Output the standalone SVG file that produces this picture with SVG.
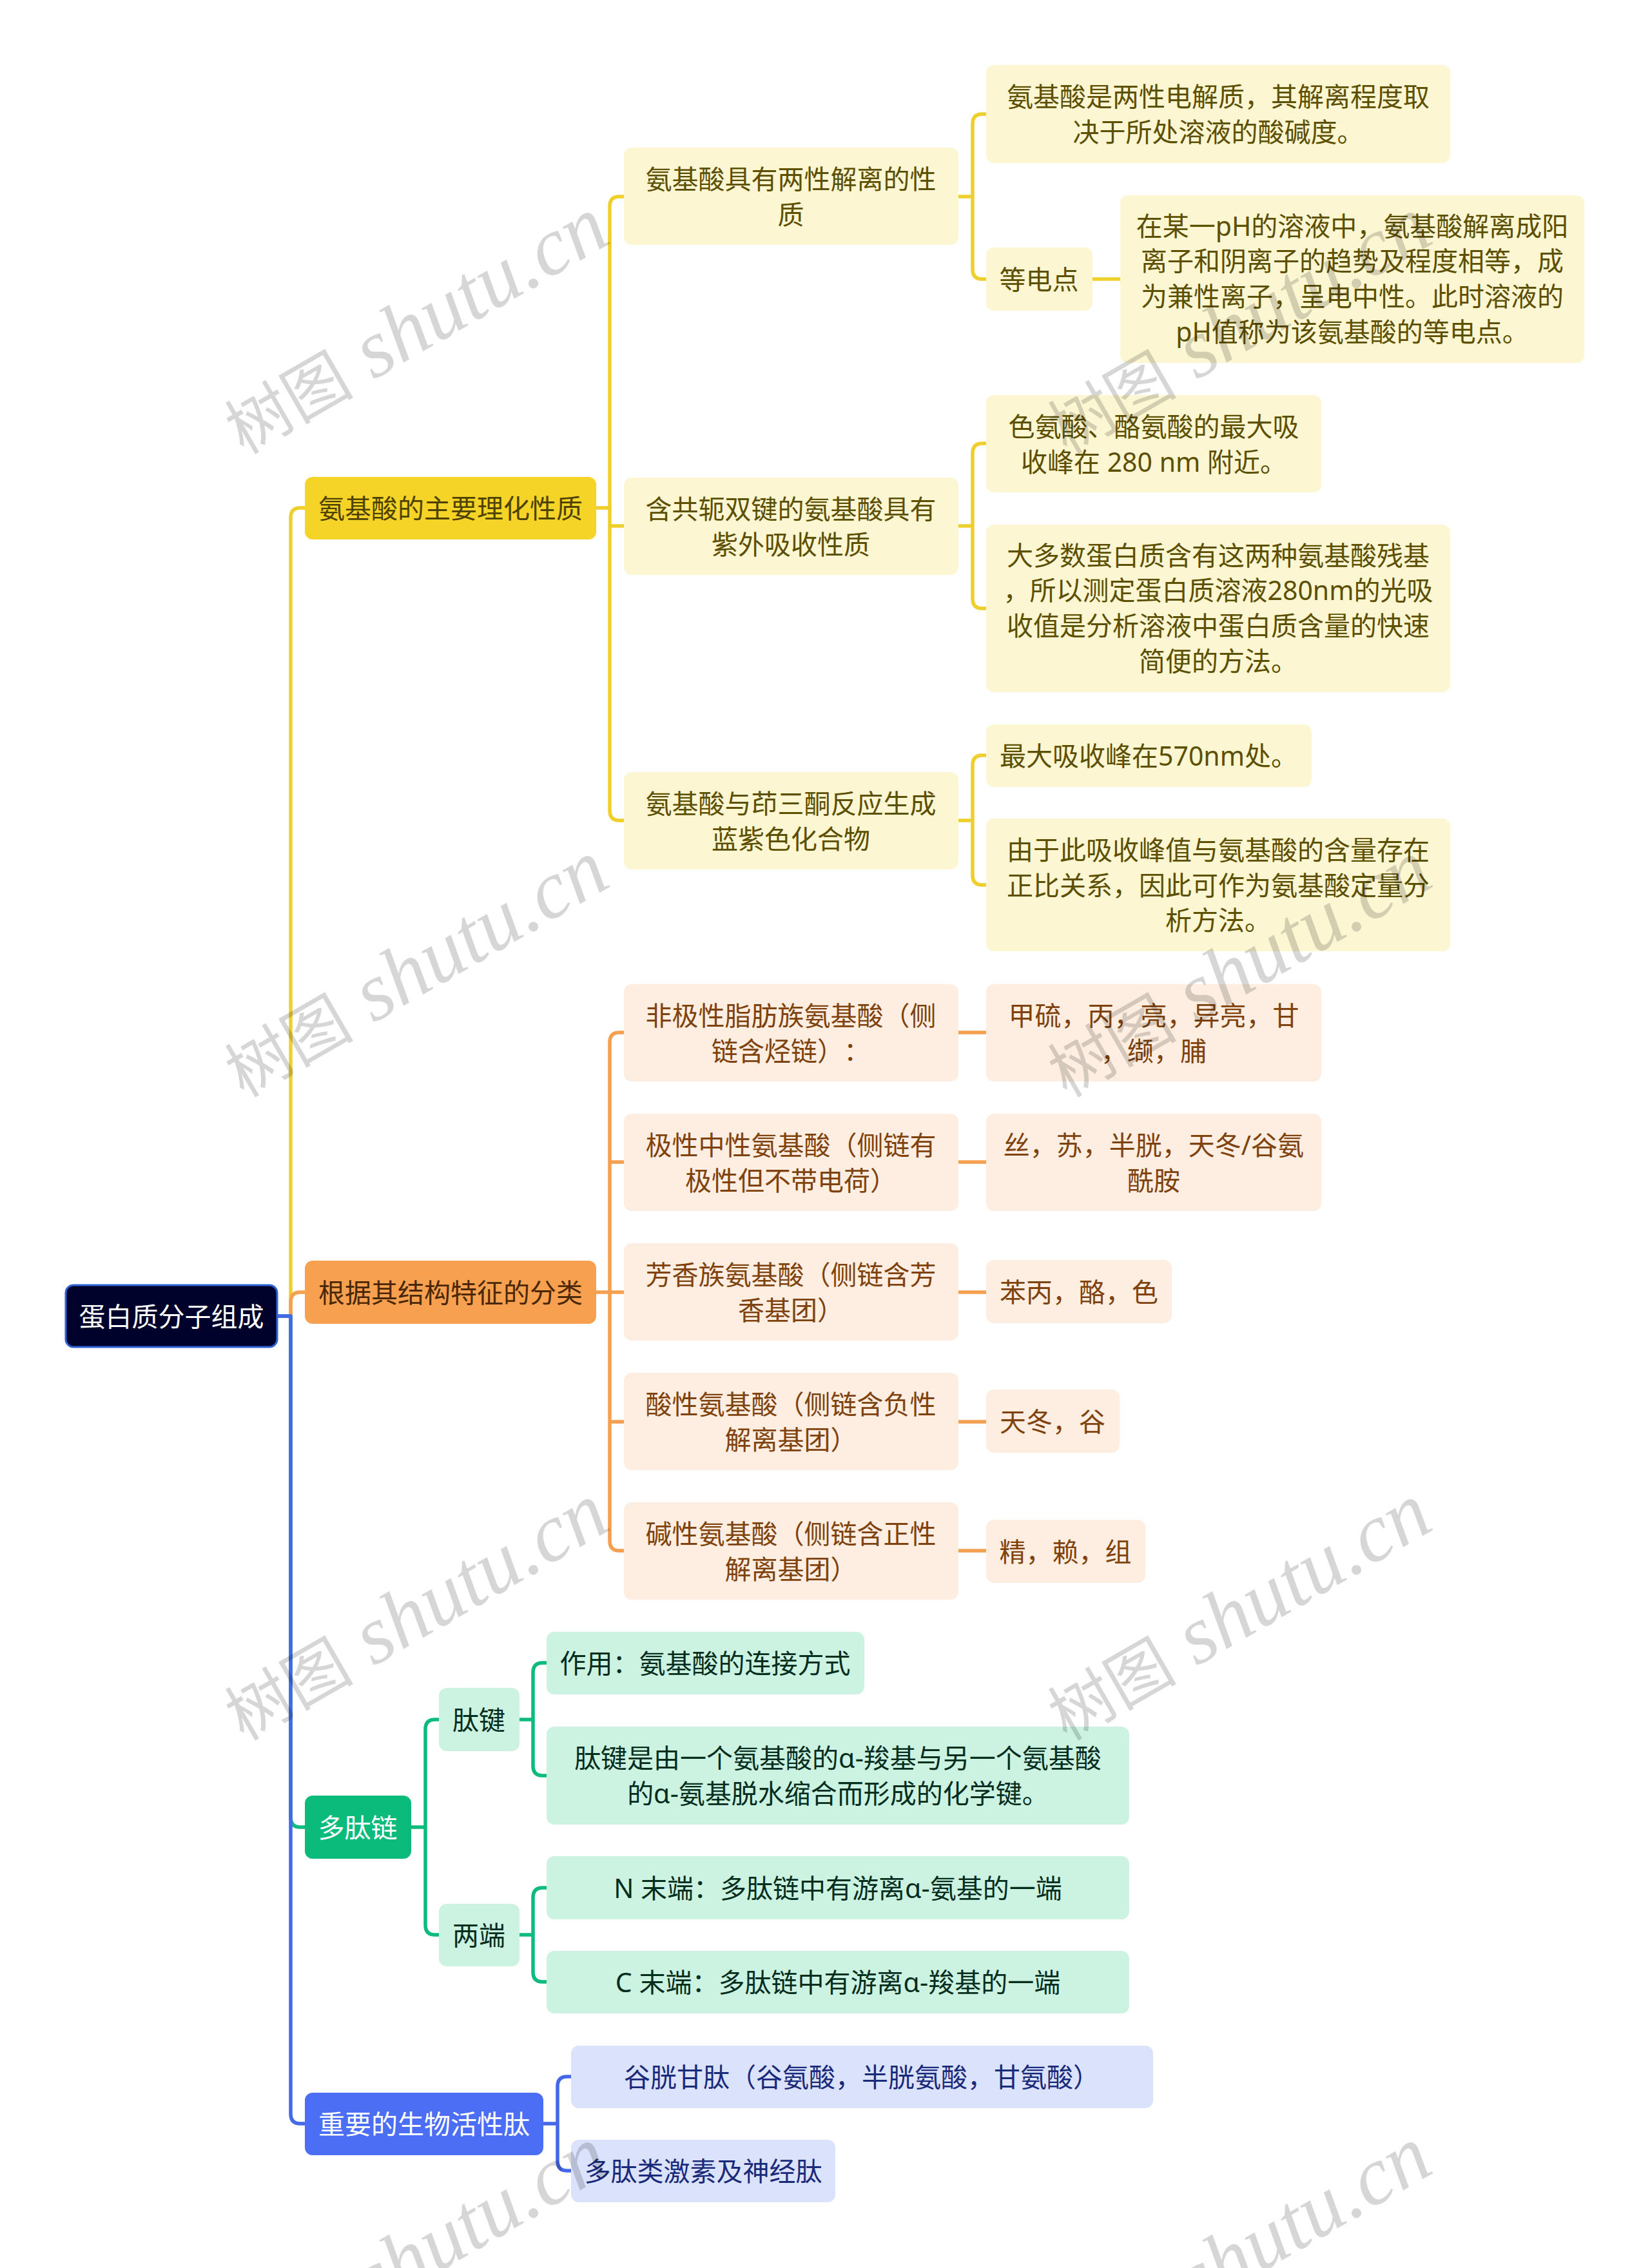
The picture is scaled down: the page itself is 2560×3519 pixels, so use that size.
<svg xmlns="http://www.w3.org/2000/svg" width="2560" height="3519" viewBox="0 0 2560 3519">
<style>
text{font-family:"Noto Sans","Noto Sans CJK SC",sans-serif;font-size:41px;text-anchor:middle;text-spacing-trim:space-all}
.c{fill:none;stroke-width:5.5;stroke-linejoin:round}
.cy{stroke:#eecf2c}.co{stroke:#f5a050}.cg{stroke:#0dbb7d}.cb{stroke:#4468e8}
.m{fill:#fff}
.y1{fill:#f5d327}.y2{fill:#fdf6d2}.ty1{fill:#4d4200}.ty2{fill:#5c4f00}
.o1{fill:#f7a04f}.o2{fill:#fdeee1}.to1{fill:#4a2706}.to2{fill:#7f420c}
.g1{fill:#0abb7c}.g2{fill:#ccf2e2}.tg2{fill:#032d1d}
.b1{fill:#4c6ef5}.b2{fill:#dbe2fb}.tb2{fill:#1a2a7a}
.wm{fill:#000;fill-opacity:.16;text-anchor:start}
.wm .lat{font-family:"Liberation Serif",serif;font-style:italic;font-size:128px}
.wm .cjk{font-family:"Noto Sans CJK SC",sans-serif;font-size:100px}
</style>
<defs>
<text id="wmk" class="wm" transform="rotate(-30)"><tspan class="cjk">树图</tspan><tspan class="lat"> shutu.cn</tspan></text>
</defs>
<rect width="2560" height="3519" fill="#fff"/>
<g id="connectors">
<path class="c cy" d="M430 2042H451V803Q451 788 466 788H473"/>
<path class="c co" d="M430 2042H451V2020Q451 2005 466 2005H473"/>
<path class="c cg" d="M430 2042H451V2820Q451 2835 466 2835H473"/>
<path class="c cb" d="M430 2042H451V3280Q451 3295 466 3295H473"/>
<path class="c cy" d="M925 788H946V320Q946 305 961 305H968M946 788V1258Q946 1273 961 1273H968M946 816H968"/>
<path class="c cy" d="M1487 305H1509V192Q1509 177 1524 177H1530M1509 305V418Q1509 433 1524 433H1530M1695 433H1738"/>
<path class="c cy" d="M1487 816H1509V703Q1509 688 1524 688H1530M1509 816V929Q1509 944 1524 944H1530"/>
<path class="c cy" d="M1487 1273H1509V1187Q1509 1172 1524 1172H1530M1509 1273V1358Q1509 1373 1524 1373H1530"/>
<path class="c co" d="M925 2005H946V1617Q946 1602 961 1602H968M946 1803H968M946 2005H968M946 2005V2391Q946 2406 961 2406H968M946 2206H968"/>
<path class="c co" d="M1487 1602H1530M1487 1803H1530M1487 2005H1530M1487 2206H1530M1487 2406H1530"/>
<path class="c cg" d="M638 2835H660V2683Q660 2668 675 2668H681M660 2835V2987Q660 3002 675 3002H681"/>
<path class="c cg" d="M806 2668H827V2595Q827 2580 842 2580H848M827 2668V2740Q827 2755 842 2755H848"/>
<path class="c cg" d="M806 3002H827V2944Q827 2929 842 2929H848M827 3002V3060Q827 3075 842 3075H848"/>
<path class="c cb" d="M843 3295H865V3237Q865 3222 880 3222H886M865 3295V3353Q865 3368 880 3368H886"/>
</g>
<g id="root"><rect x="102" y="1994" width="328" height="96" rx="12" fill="#00022b" stroke="#2f62d6" stroke-width="3"/><text x="266" y="2058" class="m">蛋白质分子组成</text></g>

<g id="n1"><rect class="y1" x="473" y="740" width="452" height="97" rx="12"/><text x="699" y="804" class="ty1">氨基酸的主要理化性质</text></g>
<g id="n11"><rect class="y2" x="968" y="229" width="519" height="151" rx="12"/><text x="1227" y="293" class="ty2">氨基酸具有两性解离的性</text><text x="1227" y="348" class="ty2">质</text></g>
<g id="n111"><rect class="y2" x="1530" y="101" width="720" height="152" rx="12"/><text x="1890" y="165" class="ty2">氨基酸是两性电解质，其解离程度取</text><text x="1890" y="220" class="ty2">决于所处溶液的酸碱度。</text></g>
<g id="n112"><rect class="y2" x="1530" y="384" width="165" height="98" rx="12"/><text x="1612" y="449" class="ty2">等电点</text></g>
<g id="n1121"><rect class="y2" x="1738" y="303" width="720" height="260" rx="12"/><text x="2098" y="366" class="ty2">在某一pH的溶液中，氨基酸解离成阳</text><text x="2098" y="420" class="ty2">离子和阴离子的趋势及程度相等，成</text><text x="2098" y="475" class="ty2">为兼性离子，呈电中性。此时溶液的</text><text x="2098" y="530" class="ty2">pH值称为该氨基酸的等电点。</text></g>
<g id="n12"><rect class="y2" x="968" y="741" width="519" height="151" rx="12"/><text x="1227" y="805" class="ty2">含共轭双键的氨基酸具有</text><text x="1227" y="860" class="ty2">紫外吸收性质</text></g>
<g id="n121"><rect class="y2" x="1530" y="613" width="520" height="151" rx="12"/><text x="1790" y="677" class="ty2">色氨酸、酪氨酸的最大吸</text><text x="1790" y="732" class="ty2">收峰在 280 nm 附近。</text></g>
<g id="n122"><rect class="y2" x="1530" y="814" width="720" height="260" rx="12"/><text x="1890" y="877" class="ty2">大多数蛋白质含有这两种氨基酸残基</text><text x="1890" y="931" class="ty2">，所以测定蛋白质溶液280nm的光吸</text><text x="1890" y="986" class="ty2">收值是分析溶液中蛋白质含量的快速</text><text x="1890" y="1041" class="ty2">简便的方法。</text></g>
<g id="n13"><rect class="y2" x="968" y="1198" width="519" height="151" rx="12"/><text x="1227" y="1262" class="ty2">氨基酸与茚三酮反应生成</text><text x="1227" y="1317" class="ty2">蓝紫色化合物</text></g>
<g id="n131"><rect class="y2" x="1530" y="1124" width="505" height="97" rx="12"/><text x="1782" y="1188" class="ty2">最大吸收峰在570nm处。</text></g>
<g id="n132"><rect class="y2" x="1530" y="1270" width="720" height="206" rx="12"/><text x="1890" y="1334" class="ty2">由于此吸收峰值与氨基酸的含量存在</text><text x="1890" y="1389" class="ty2">正比关系，因此可作为氨基酸定量分</text><text x="1890" y="1443" class="ty2">析方法。</text></g>

<g id="n2"><rect class="o1" x="473" y="1956" width="452" height="98" rx="12"/><text x="699" y="2021" class="to1">根据其结构特征的分类</text></g>
<g id="n21"><rect class="o2" x="968" y="1527" width="519" height="151" rx="12"/><text x="1227" y="1591" class="to2">非极性脂肪族氨基酸（侧</text><text x="1227" y="1646" class="to2">链含烃链）：</text></g>
<g id="n211"><rect class="o2" x="1530" y="1527" width="520" height="151" rx="12"/><text x="1790" y="1591" class="to2">甲硫，丙，亮，异亮，甘</text><text x="1790" y="1646" class="to2">，缬，脯</text></g>
<g id="n22"><rect class="o2" x="968" y="1728" width="519" height="151" rx="12"/><text x="1227" y="1792" class="to2">极性中性氨基酸（侧链有</text><text x="1227" y="1847" class="to2">极性但不带电荷）</text></g>
<g id="n221"><rect class="o2" x="1530" y="1728" width="520" height="151" rx="12"/><text x="1790" y="1792" class="to2">丝，苏，半胱，天冬/谷氨</text><text x="1790" y="1847" class="to2">酰胺</text></g>
<g id="n23"><rect class="o2" x="968" y="1929" width="519" height="151" rx="12"/><text x="1227" y="1993" class="to2">芳香族氨基酸（侧链含芳</text><text x="1227" y="2048" class="to2">香基团）</text></g>
<g id="n231"><rect class="o2" x="1530" y="1955" width="288" height="98" rx="12"/><text x="1674" y="2020" class="to2">苯丙，酪，色</text></g>
<g id="n24"><rect class="o2" x="968" y="2130" width="519" height="151" rx="12"/><text x="1227" y="2194" class="to2">酸性氨基酸（侧链含负性</text><text x="1227" y="2249" class="to2">解离基团）</text></g>
<g id="n241"><rect class="o2" x="1530" y="2156" width="207" height="98" rx="12"/><text x="1633" y="2221" class="to2">天冬，谷</text></g>
<g id="n25"><rect class="o2" x="968" y="2331" width="519" height="151" rx="12"/><text x="1227" y="2395" class="to2">碱性氨基酸（侧链含正性</text><text x="1227" y="2450" class="to2">解离基团）</text></g>
<g id="n251"><rect class="o2" x="1530" y="2358" width="247" height="98" rx="12"/><text x="1653" y="2423" class="to2">精，赖，组</text></g>

<g id="n3"><rect class="g1" x="473" y="2786" width="165" height="98" rx="12"/><text x="555" y="2851" class="m">多肽链</text></g>
<g id="n31"><rect class="g2" x="681" y="2619" width="125" height="98" rx="12"/><text x="743" y="2684" class="tg2">肽键</text></g>
<g id="n311"><rect class="g2" x="848" y="2532" width="493" height="97" rx="12"/><text x="1094" y="2596" class="tg2">作用：氨基酸的连接方式</text></g>
<g id="n312"><rect class="g2" x="848" y="2679" width="904" height="152" rx="12"/><text x="1300" y="2743" class="tg2">肽键是由一个氨基酸的α-羧基与另一个氨基酸</text><text x="1300" y="2798" class="tg2">的α-氨基脱水缩合而形成的化学键。</text></g>
<g id="n32"><rect class="g2" x="681" y="2954" width="125" height="97" rx="12"/><text x="743" y="3018" class="tg2">两端</text></g>
<g id="n321"><rect class="g2" x="848" y="2880" width="904" height="98" rx="12"/><text x="1300" y="2945" class="tg2">N 末端：多肽链中有游离α-氨基的一端</text></g>
<g id="n322"><rect class="g2" x="848" y="3027" width="904" height="97" rx="12"/><text x="1300" y="3091" class="tg2">C 末端：多肽链中有游离α-羧基的一端</text></g>

<g id="n4"><rect class="b1" x="473" y="3247" width="370" height="97" rx="12"/><text x="658" y="3311" class="m">重要的生物活性肽</text></g>
<g id="n41"><rect class="b2" x="886" y="3174" width="903" height="97" rx="12"/><text x="1337" y="3238" class="tb2">谷胱甘肽（谷氨酸，半胱氨酸，甘氨酸）</text></g>
<g id="n42"><rect class="b2" x="886" y="3320" width="410" height="97" rx="12"/><text x="1091" y="3384" class="tb2">多肽类激素及神经肽</text></g>

<g id="watermark">
<use href="#wmk" transform="translate(378 706)"/>
<use href="#wmk" transform="translate(378 1704)"/>
<use href="#wmk" transform="translate(378 2702)"/>
<use href="#wmk" transform="translate(378 3700)"/>
<use href="#wmk" transform="translate(1655 706)"/>
<use href="#wmk" transform="translate(1655 1704)"/>
<use href="#wmk" transform="translate(1655 2702)"/>
<use href="#wmk" transform="translate(1655 3700)"/>
</g>
</svg>
